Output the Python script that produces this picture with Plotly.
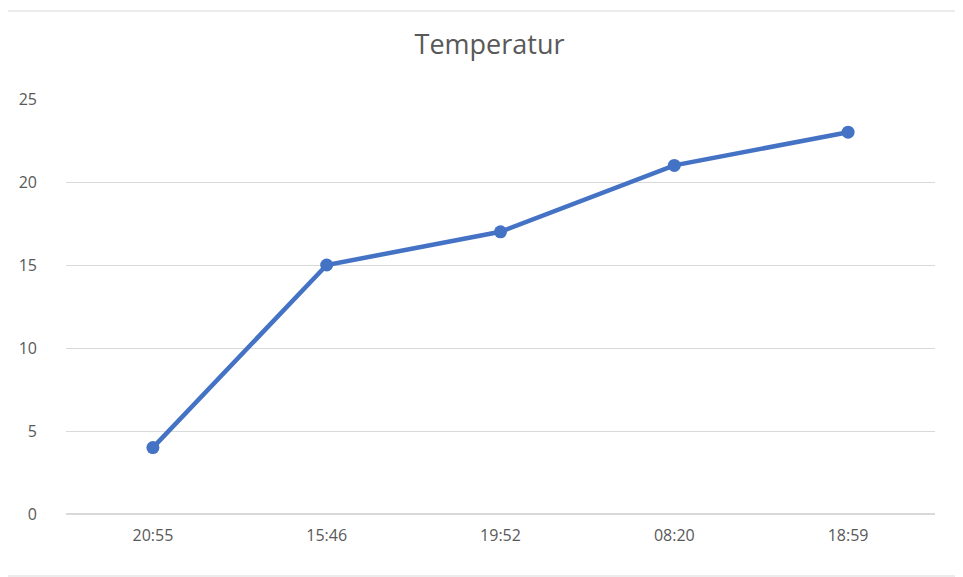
import plotly.graph_objects as go

times = ["20:55", "15:46", "19:52", "08:20", "18:59"]
temps = [4, 15, 17, 21, 23]

fig = go.Figure(go.Scatter(x=times, y=temps, mode="lines+markers",
    line=dict(color="#4472C4", width=4.5), marker=dict(color="#4472C4", size=13)))
fig.update_layout(
    width=963, height=577, plot_bgcolor="white", paper_bgcolor="white",
    margin=dict(l=58, r=36, t=91, b=71),
    title=dict(text="Temperatur", x=0.5, xanchor="center", y=1-37/577, yanchor="middle",
               font=dict(family="Open Sans", size=27, color="#595959")),
    font=dict(family="Open Sans", size=16, color="#595959"),
    showlegend=False,
    shapes=[dict(type="rect", xref="paper", yref="paper", x0=-65/869, x1=896/869,
                 y0=-62/415, y1=1+88/415, line=dict(color="#d9d9d9", width=1))],
)
fig.update_xaxes(type="category", range=[-0.5, 4.5], showgrid=False, ticks="",
                 showline=False, ticklabelstandoff=10)
fig.update_yaxes(range=[0, 25], dtick=5, gridcolor="#d9d9d9", zeroline=True,
                 zerolinecolor="#d9d9d9", ticks="", ticklabelstandoff=28)
fig.write_html("out.html")
